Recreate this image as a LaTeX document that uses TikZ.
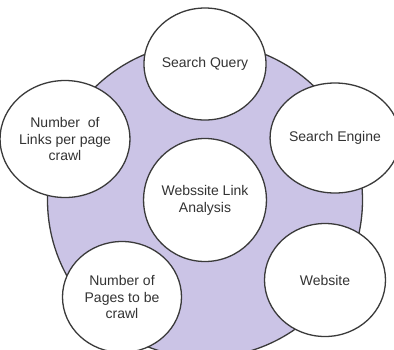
\documentclass[tikz,border=0pt]{standalone}
\usepackage{fontspec}
\setmainfont{Liberation Sans}
\usetikzlibrary{shapes.geometric}
\definecolor{ringfill}{HTML}{CBC4E6}
\definecolor{edgegray}{HTML}{3A3A3A}
\definecolor{txtgray}{HTML}{333333}
\tikzset{
  ring/.style={circle, draw=edgegray, fill=ringfill, line width=1.3pt, minimum size=315pt, inner sep=0pt},
  bubble/.style={ellipse, draw=edgegray, fill=white, line width=1.3pt, inner sep=0pt,
    align=center, text=txtgray, font=\fontsize{14}{16.8}\selectfont}
}
\begin{document}
\begin{tikzpicture}[x=1pt,y=-1pt]
\useasboundingbox (0,0) rectangle (394,349);
\clip (0,0) rectangle (394,349);
\fill[white] (0,0) rectangle (394,349);
\node[ring] (bg) at (205,200) {};
\node[bubble, minimum width=121pt, minimum height=123pt] (center) at (205,200) {Webssite Link\\Analysis};
\node[bubble, minimum width=120pt, minimum height=112pt] (sq) at (205,64) {Search Query};
\node[bubble, minimum width=118pt, minimum height=110pt] (se) at (335,138) {Search Engine};
\node[bubble, minimum width=121pt, minimum height=113pt] (ws) at (325,280) {Website};
\node[bubble, minimum width=115pt, minimum height=117pt] (links) at (65,139) {Number\ \ of\\Links per page\\crawl};
\node[bubble, minimum width=119pt, minimum height=111pt] (pages) at (122,297) {Number of\\Pages to be\\crawl};
\end{tikzpicture}
\end{document}
